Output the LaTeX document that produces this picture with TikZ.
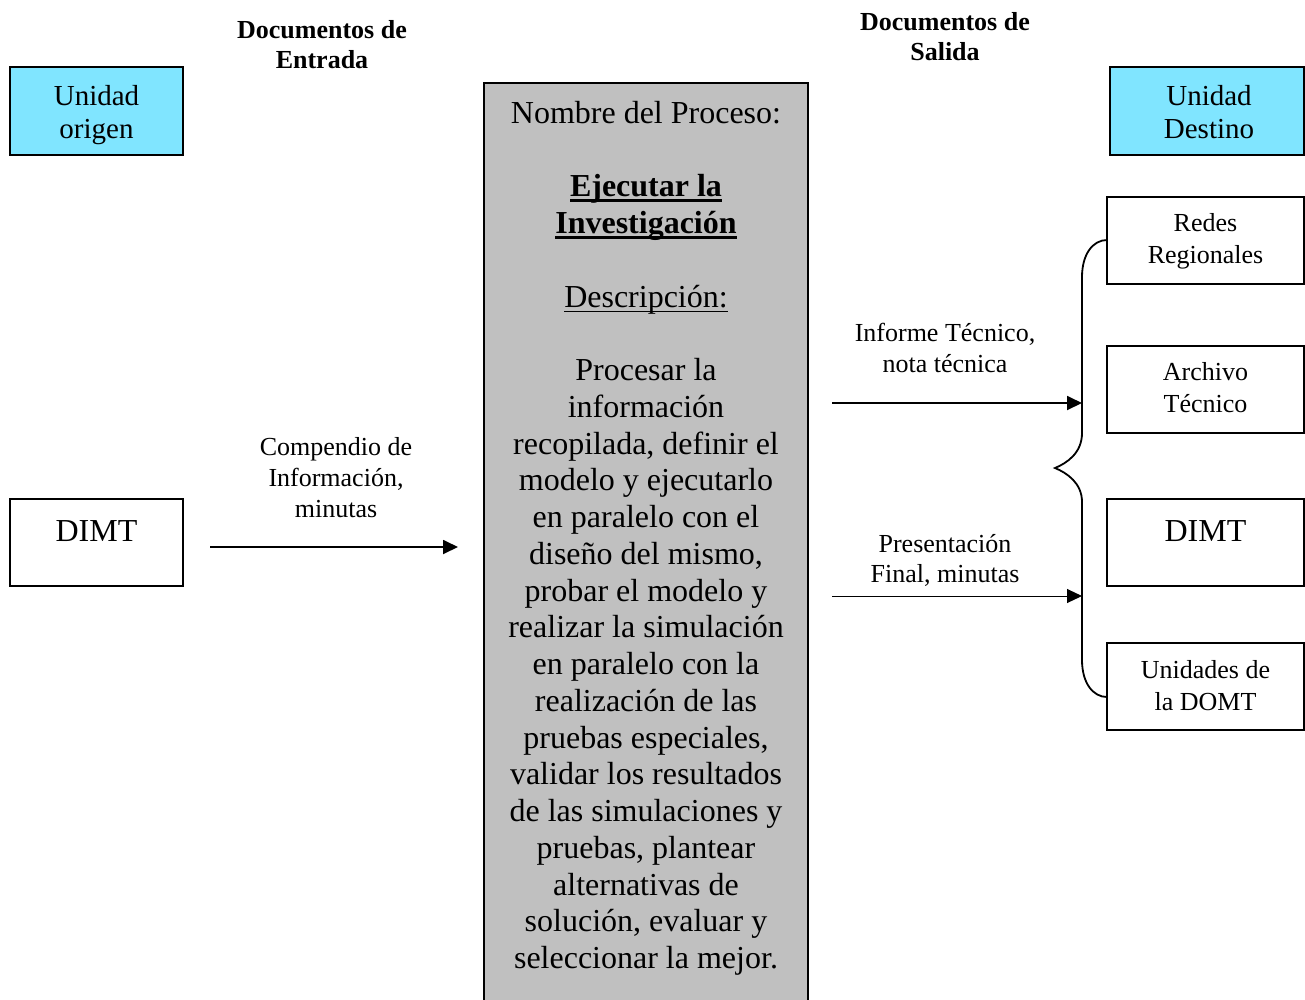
\documentclass[tikz,border=0pt]{standalone}
\usepackage{fontspec}
\setmainfont{Liberation Serif}
\usetikzlibrary{arrows.meta}
\definecolor{unitcyan}{HTML}{80E5FF}
\definecolor{procgray}{HTML}{C0C0C0}
% underline with a rule of chosen thickness
\newcommand\thickul[2]{\setbox0\hbox{#2}\rlap{\rule[-5pt]{\wd0}{#1}}\box0}
\begin{document}
\begin{tikzpicture}[x=1pt,y=-1pt,
  box/.style={draw=black, line width=1.8pt, inner sep=0pt, outer sep=0pt},
  unitbox/.style={box, fill=unitcyan},
  % multi-line texts are placed by the baseline of their last line
  txt/.style={anchor=base, align=center, inner sep=0pt},
  small/.style={txt, font=\fontsize{26}{31}\selectfont},
  title/.style={txt, font=\fontsize{26}{30}\selectfont\bfseries},
  flow/.style={line width=1.8pt, -{Triangle[length=15pt,width=14pt]}},
  thinflow/.style={line width=1pt, -{Triangle[length=15pt,width=14pt]}},
  bracestyle/.style={line width=1.8pt}
]
\path[use as bounding box, clip] (0,0) rectangle (1305,999);

% column titles
\node[title] (tIn) at (322,68) {Documentos de\\Entrada};
\node[title] (tOut) at (945,60) {Documentos de\\Salida};

% source and destination units
\node[unitbox, minimum width=173pt, minimum height=88pt] (orig) at (96.5,111) {};
\node[txt, font=\fontsize{29}{33}\selectfont] (origT) at (96.5,138) {Unidad\\origen};
\node[unitbox, minimum width=194pt, minimum height=88pt] (dest) at (1207,111) {};
\node[txt, font=\fontsize{29}{33}\selectfont] (destT) at (1209,138) {Unidad\\Destino};

% process box
\node[box, fill=procgray, minimum width=324pt, minimum height=927pt] (proc) at (646,546.5) {};
\node[txt, font=\fontsize{32}{36.75}\selectfont] (procT) at (646,968.5) {%
Nombre del Proceso:\\[36.75pt]
\textbf{\thickul{2.5pt}{Ejecutar la}}\\
\textbf{\thickul{2.5pt}{Investigación}}\\[36.75pt]
\thickul{1.5pt}{Descripción:}\\[36.75pt]
Procesar la\\
información\\
recopilada, definir el\\
modelo y ejecutarlo\\
en paralelo con el\\
diseño del mismo,\\
probar el modelo y\\
realizar la simulación\\
en paralelo con la\\
realización de las\\
pruebas especiales,\\
validar los resultados\\
de las simulaciones y\\
pruebas, plantear\\
alternativas de\\
solución, evaluar y\\
seleccionar la mejor.};

% input document
\node[box, minimum width=173pt, minimum height=87pt] (dimtL) at (96.5,542.5) {};
\node[txt, font=\fontsize{32}{36}\selectfont] (dimtLT) at (96.5,541) {DIMT};
\coordinate (inS) at (210,547);
\coordinate (inE) at (458,547);
\draw[flow] (inS) -- (inE);
\node[small] (inLab) at (336,517) {Compendio de\\Información,\\minutas};

% output documents
\coordinate (o1S) at (832,403);
\coordinate (o1E) at (1082,403);
\coordinate (o2S) at (832,596);
\coordinate (o2E) at (1082,596);
\draw[flow] (o1S) -- (o1E);
\draw[thinflow] (o2S) -- (o2E);
\node[small] (o1Lab) at (945,372) {Informe Técnico,\\nota técnica};
\node[txt, font=\fontsize{26}{30}\selectfont] (o2Lab) at (945,582) {Presentación\\Final, minutas};

% destination boxes
\node[box, minimum width=197pt, minimum height=87pt] (redes) at (1205.5,240.5) {};
\node[txt, font=\fontsize{26}{32}\selectfont] (redesT) at (1205.5,263) {Redes\\Regionales};
\node[box, minimum width=197pt, minimum height=87pt] (arch) at (1205.5,389.5) {};
\node[txt, font=\fontsize{26}{32}\selectfont] (archT) at (1205.5,412) {Archivo\\Técnico};
\node[box, minimum width=197pt, minimum height=87pt] (dimtR) at (1205.5,542.5) {};
\node[txt, font=\fontsize{32}{36}\selectfont] (dimtRT) at (1205.5,541) {DIMT};
\node[box, minimum width=197pt, minimum height=87pt] (unid) at (1205.5,686.5) {};
\node[txt, font=\fontsize{26}{32}\selectfont] (unidT) at (1205.5,710) {Unidades de\\la DOMT};

% brace gathering the outputs
\draw[bracestyle] (redes.west |- 0,240) .. controls (1093,240) and (1082,254) .. (1082,277)
  -- (1082,433) .. controls (1082,453) and (1067,463) .. (1055,468)
  .. controls (1067,473) and (1082,483) .. (1082,502)
  -- (1082,660) .. controls (1082,683) and (1093,697) .. (unid.west |- 0,697);
\end{tikzpicture}
\end{document}
